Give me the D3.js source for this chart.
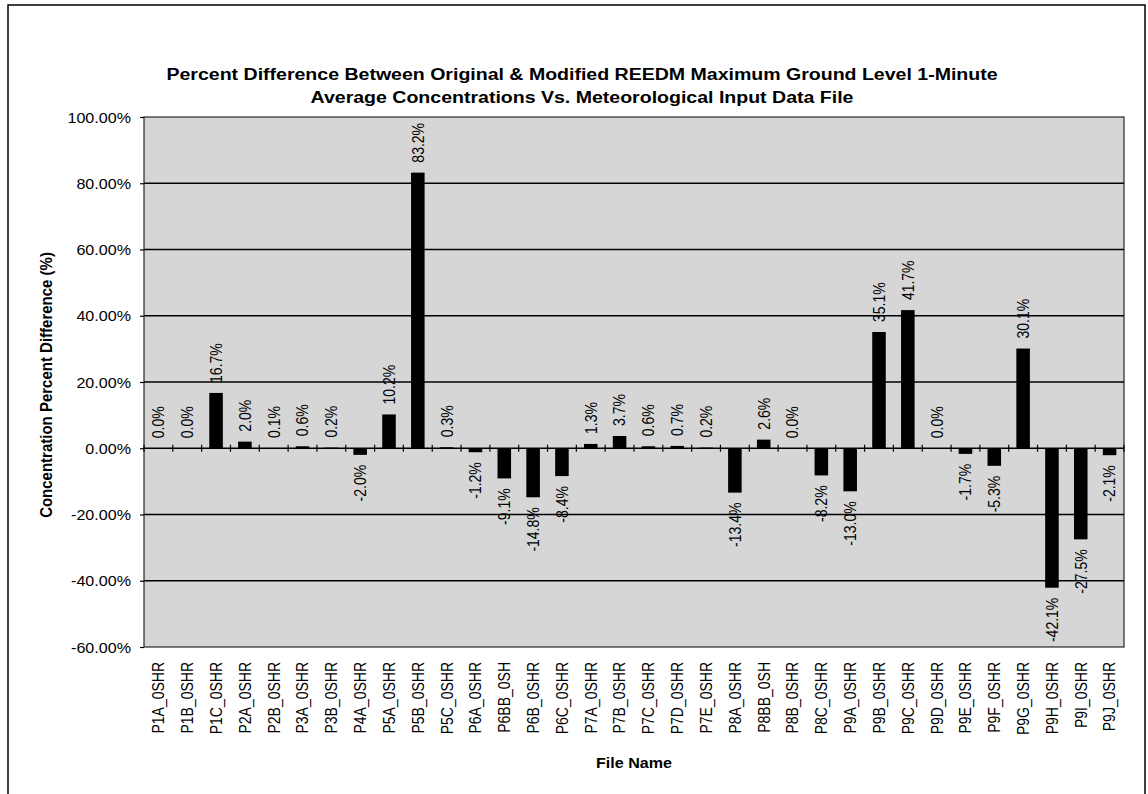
<!DOCTYPE html>
<html>
<head>
<meta charset="utf-8">
<script src="https://cdn.jsdelivr.net/npm/d3@7"></script>
<style>
  html, body { margin: 0; padding: 0; background: #fff; }
  svg { display: block; }
  text { font-family: "Liberation Sans", Arial, Helvetica, sans-serif; fill: #000; }
</style>
</head>
<body>
<svg id="chart" width="1148" height="794"></svg>
<script>
// ---- data ----
const categories = [
  "P1A_0SHR","P1B_0SHR","P1C_0SHR","P2A_0SHR","P2B_0SHR","P3A_0SHR","P3B_0SHR",
  "P4A_0SHR","P5A_0SHR","P5B_0SHR","P5C_0SHR","P6A_0SHR","P6BB_0SH","P6B_0SHR",
  "P6C_0SHR","P7A_0SHR","P7B_0SHR","P7C_0SHR","P7D_0SHR","P7E_0SHR","P8A_0SHR",
  "P8BB_0SH","P8B_0SHR","P8C_0SHR","P9A_0SHR","P9B_0SHR","P9C_0SHR","P9D_0SHR",
  "P9E_0SHR","P9F_0SHR","P9G_0SHR","P9H_0SHR","P9I_0SHR","P9J_0SHR"
];
const percentDiff = [
  0.0, 0.0, 16.7, 2.0, 0.1, 0.6, 0.2,
  -2.0, 10.2, 83.2, 0.3, -1.2, -9.1, -14.8,
  -8.4, 1.3, 3.7, 0.6, 0.7, 0.2, -13.4,
  2.6, 0.0, -8.2, -13.0, 35.1, 41.7, 0.0,
  -1.7, -5.3, 30.1, -42.1, -27.5, -2.1
];
const yTicks = [-60, -40, -20, 0, 20, 40, 60, 80, 100];
const titleLines = [
  "Percent Difference Between Original & Modified REEDM Maximum Ground Level 1-Minute",
  "Average Concentrations Vs. Meteorological Input Data File"
];
const yTitle = "Concentration Percent Difference (%)";
const xTitle = "File Name";

// ---- layout ----
const SX = 1.15; // horizontal stretch of the scanned original
const plot = { left: 144, right: 1124, top: 117, bottom: 647 };
const svg = d3.select("#chart");
const hyph = s => s.replace("\u2212", "-");

const x = d3.scaleBand()
  .domain(categories)
  .range([plot.left, plot.right])
  .paddingInner(0.53)
  .paddingOuter(0.265);
const y = d3.scaleLinear().domain([-60, 100]).range([plot.bottom, plot.top]);
const step = x.step();

// outer frame
svg.append("rect")
  .attr("x", 8).attr("y", 5).attr("width", 1137).attr("height", 800)
  .attr("fill", "none").attr("stroke", "#000").attr("stroke-width", 1.5);

// plot background
svg.append("rect")
  .attr("x", plot.left).attr("y", plot.top)
  .attr("width", plot.right - plot.left).attr("height", plot.bottom - plot.top)
  .attr("fill", "#d6d6d6");

// gridlines
svg.append("g").selectAll("line")
  .data(yTicks.filter(t => t > -60 && t < 100))
  .join("line")
  .attr("x1", plot.left).attr("x2", plot.right)
  .attr("y1", d => y(d)).attr("y2", d => y(d))
  .attr("stroke", "#000").attr("stroke-width", 1.4);

// plot border
svg.append("rect")
  .attr("x", plot.left).attr("y", plot.top)
  .attr("width", plot.right - plot.left).attr("height", plot.bottom - plot.top)
  .attr("fill", "none").attr("stroke", "#000").attr("stroke-width", 1);

// y axis ticks + labels
const yAxis = d3.axisLeft(y).tickValues(yTicks).tickSize(4).tickPadding(10)
  .tickFormat(d => hyph(d3.format(".2f")(d)) + "%");
const yg = svg.append("g").attr("transform", `translate(${plot.left},0)`).call(yAxis);
yg.select(".domain").remove();
yg.selectAll(".tick line").attr("stroke", "#000").attr("stroke-width", 1.2);
yg.selectAll(".tick text")
  .attr("font-size", 14)
  .attr("font-family", "Liberation Sans, Arial, sans-serif")
  .attr("fill", "#000")
  .attr("dy", null)
  .attr("dominant-baseline", "central")
  .attr("transform", `translate(-13,0) scale(${SX},1)`)
  .attr("x", 0);

// bars
svg.append("g").selectAll("rect")
  .data(categories.map((c, i) => ({ c, v: percentDiff[i] })))
  .join("rect")
  .attr("x", d => x(d.c))
  .attr("width", x.bandwidth())
  .attr("y", d => Math.min(y(d.v), y(0)))
  .attr("height", d => Math.abs(y(d.v) - y(0)))
  .attr("fill", "#000");

// category ticks crossing the zero line
const boundaries = d3.range(categories.length + 1).map(i => plot.left + i * step);
svg.append("g").selectAll("line")
  .data(boundaries)
  .join("line")
  .attr("x1", d => d).attr("x2", d => d)
  .attr("y1", y(0) - 3.5).attr("y2", y(0) + 3.5)
  .attr("stroke", "#000").attr("stroke-width", 1.2);

// value labels
svg.append("g").selectAll("text")
  .data(categories.map((c, i) => ({ c, v: percentDiff[i] })))
  .join("text")
  .attr("transform", d => {
    const cx = x(d.c) + x.bandwidth() / 2;
    const cy = d.v >= 0 ? y(d.v) - 10 : y(d.v) + 10;
    return `translate(${cx},${cy}) scale(${SX},1) rotate(-90)`;
  })
  .attr("text-anchor", d => d.v >= 0 ? "start" : "end")
  .attr("dominant-baseline", "central")
  .attr("font-size", 14)
  .text(d => hyph(d3.format(".1f")(d.v)) + "%");

// category labels
svg.append("g").selectAll("text")
  .data(categories)
  .join("text")
  .attr("transform", d => `translate(${x(d) + x.bandwidth() / 2},662) scale(${SX},1) rotate(-90)`)
  .attr("text-anchor", "end")
  .attr("dominant-baseline", "central")
  .attr("font-size", 14)
  .text(d => d);

// title
svg.append("g").selectAll("text")
  .data(titleLines)
  .join("text")
  .attr("transform", (d, i) => `translate(582,${80 + i * 22.5}) scale(${SX},1)`)
  .attr("text-anchor", "middle")
  .attr("font-size", 17)
  .attr("font-weight", "bold")
  .text(d => d);

// axis titles
svg.append("text")
  .attr("transform", `translate(46,385) scale(${SX},1) rotate(-90)`)
  .attr("text-anchor", "middle")
  .attr("dominant-baseline", "central")
  .attr("font-size", 15)
  .attr("font-weight", "bold")
  .text(yTitle);

svg.append("text")
  .attr("transform", `translate(${(plot.left + plot.right) / 2},768) scale(${SX},1)`)
  .attr("text-anchor", "middle")
  .attr("font-size", 14)
  .attr("font-weight", "bold")
  .text(xTitle);
</script>
</body>
</html>
